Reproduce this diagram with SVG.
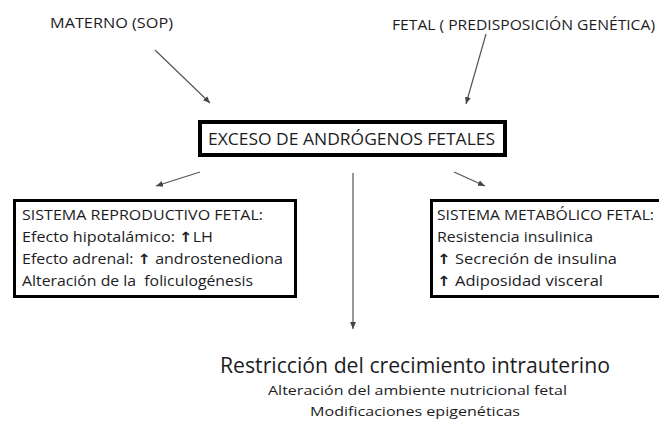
<svg xmlns="http://www.w3.org/2000/svg" width="659" height="422" viewBox="0 0 659 422">
<defs>
<marker id="ah" markerUnits="userSpaceOnUse" markerWidth="8" markerHeight="8" refX="7" refY="4" orient="auto">
<path d="M0,1 L7,4 L0,7 Z" fill="#444"/>
</marker>
<style>
text{font-family:"Open Sans","Liberation Sans",Arial,sans-serif;fill:#1c1c24;}
.t{font-size:14px;}
.b{font-size:14px;}
.m{font-size:16px;}
.up{font-family:"DejaVu Sans",sans-serif;font-weight:bold;}
.box{fill:#fff;stroke:#000;}
.c{stroke:#555;stroke-width:1.2;fill:none;marker-end:url(#ah);}
</style>
</defs>
<rect width="659" height="422" fill="#fff"/>
<g id="materno"><text class="t" x="50" y="28" textLength="123" lengthAdjust="spacingAndGlyphs">MATERNO (SOP)</text></g>
<g id="fetal"><text class="t" x="392" y="30" textLength="263" lengthAdjust="spacingAndGlyphs">FETAL ( PREDISPOSICIÓN GENÉTICA)</text></g>
<g id="connectors">
<line class="c" x1="155" y1="50" x2="210" y2="103"/>
<line class="c" x1="486" y1="34" x2="466" y2="104"/>
<line class="c" x1="200" y1="172" x2="156" y2="186"/>
<line class="c" x1="454" y1="172" x2="485" y2="186"/>
<line class="c" x1="353" y1="173" x2="353" y2="329"/>
</g>
<g id="exceso">
<rect class="box" x="200" y="122" width="305" height="33" stroke-width="4"/>
<text class="m" x="208" y="145" textLength="287" lengthAdjust="spacingAndGlyphs">EXCESO DE ANDRÓGENOS FETALES</text>
</g>
<g id="reproductivo">
<rect class="box" x="14.5" y="200.5" width="281" height="96" stroke-width="3"/>
<text class="b" x="22" y="220" textLength="241" lengthAdjust="spacingAndGlyphs">SISTEMA REPRODUCTIVO FETAL:</text>
<text class="b" x="22" y="242" textLength="191" lengthAdjust="spacingAndGlyphs">Efecto hipotalámico: <tspan class="up">↑</tspan>LH</text>
<text class="b" x="22" y="264" textLength="261" lengthAdjust="spacingAndGlyphs">Efecto adrenal: <tspan class="up">↑</tspan> androstenediona</text>
<text class="b" x="22" y="286" textLength="231" lengthAdjust="spacingAndGlyphs" xml:space="preserve">Alteración de la  foliculogénesis</text>
</g>
<g id="metabolico">
<rect class="box" x="431.5" y="200.5" width="240" height="96" stroke-width="3"/>
<text class="b" x="437" y="220" textLength="217" lengthAdjust="spacingAndGlyphs">SISTEMA METABÓLICO FETAL:</text>
<text class="b" x="437" y="242" textLength="156" lengthAdjust="spacingAndGlyphs">Resistencia insulinica</text>
<text class="b" x="437" y="264" textLength="180" lengthAdjust="spacingAndGlyphs"><tspan class="up">↑</tspan> Secreción de insulina</text>
<text class="b" x="437" y="286" textLength="166" lengthAdjust="spacingAndGlyphs"><tspan class="up">↑</tspan> Adiposidad visceral</text>
</g>
<g id="restriccion">
<text x="220" y="373" font-size="21" textLength="390" lengthAdjust="spacingAndGlyphs">Restricción del crecimiento intrauterino</text>
<text x="268" y="395" font-size="13.5" textLength="299" lengthAdjust="spacingAndGlyphs">Alteración del ambiente nutricional fetal</text>
<text x="310" y="416" font-size="13.5" textLength="210" lengthAdjust="spacingAndGlyphs">Modificaciones epigenéticas</text>
</g>
</svg>
